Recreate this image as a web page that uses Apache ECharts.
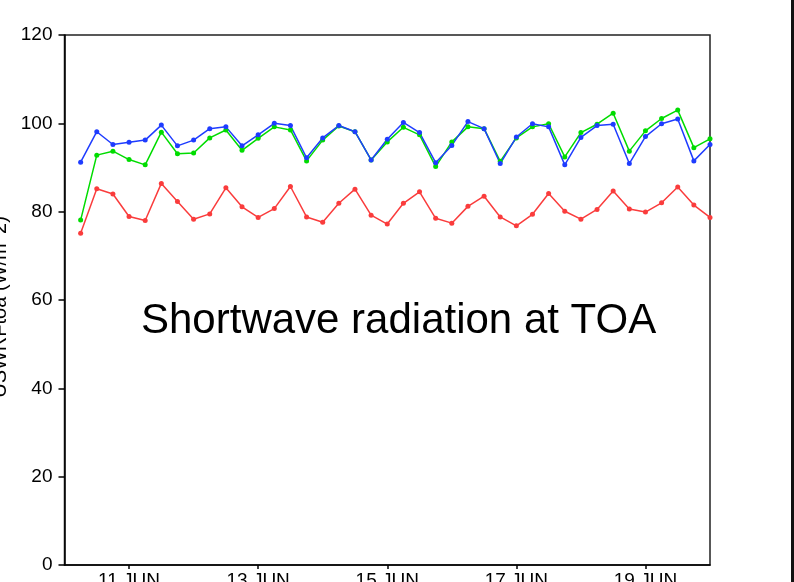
<!DOCTYPE html>
<html>
<head>
<meta charset="utf-8">
<script src="https://cdn.jsdelivr.net/npm/echarts@6/dist/echarts.min.js"></script>
<style>html,body{margin:0;padding:0;background:#fff;}#c{width:794px;height:582px;}</style>
</head>
<body>
<div id="c"></div>
<script>
// time stamps every 6 h, 10 JUN 00Z .. 20 JUN 00Z
var times = [
 '10 JUN 00Z','10 JUN 06Z','10 JUN 12Z','10 JUN 18Z',
 '11 JUN 00Z','11 JUN 06Z','11 JUN 12Z','11 JUN 18Z',
 '12 JUN 00Z','12 JUN 06Z','12 JUN 12Z','12 JUN 18Z',
 '13 JUN 00Z','13 JUN 06Z','13 JUN 12Z','13 JUN 18Z',
 '14 JUN 00Z','14 JUN 06Z','14 JUN 12Z','14 JUN 18Z',
 '15 JUN 00Z','15 JUN 06Z','15 JUN 12Z','15 JUN 18Z',
 '16 JUN 00Z','16 JUN 06Z','16 JUN 12Z','16 JUN 18Z',
 '17 JUN 00Z','17 JUN 06Z','17 JUN 12Z','17 JUN 18Z',
 '18 JUN 00Z','18 JUN 06Z','18 JUN 12Z','18 JUN 18Z',
 '19 JUN 00Z','19 JUN 06Z','19 JUN 12Z','19 JUN 18Z',
 '20 JUN 00Z'
];
var tickLabels = ['11 JUN','13 JUN','15 JUN','17 JUN','19 JUN'];
var yTicks = [0, 20, 40, 60, 80, 100, 120];

// values start at 10 JUN 06Z (first slot empty)
var redValues = [null,
 75.1, 85.2, 84.0, 78.9, 78.0, 86.4, 82.3, 78.3, 79.5, 85.4,
 81.1, 78.7, 80.7, 85.7, 78.8, 77.6, 81.9, 85.1, 79.2, 77.2,
 81.9, 84.5, 78.5, 77.4, 81.2, 83.5, 78.8, 76.8, 79.4, 84.1,
 80.1, 78.3, 80.5, 84.7, 80.6, 79.9, 82.0, 85.6, 81.5, 78.7];
var greenValues = [null,
 78.1, 92.8, 93.7, 91.8, 90.6, 98.0, 93.1, 93.3, 96.7, 98.5,
 93.9, 96.6, 99.2, 98.5, 91.5, 96.2, 99.4, 98.1, 91.7, 95.8,
 99.1, 97.4, 90.2, 95.8, 99.2, 98.8, 91.4, 96.7, 99.2, 99.9,
 92.4, 97.9, 99.8, 102.3, 93.7, 98.3, 101.1, 103.0, 94.5, 96.5];
var blueValues = [null,
 91.2, 98.1, 95.2, 95.7, 96.2, 99.6, 94.9, 96.2, 98.8, 99.2,
 94.9, 97.4, 100.0, 99.5, 92.2, 96.7, 99.5, 98.1, 91.7, 96.4,
 100.2, 97.9, 91.1, 95.0, 100.4, 98.8, 90.9, 96.9, 99.9, 99.2,
 90.6, 96.8, 99.5, 99.8, 90.9, 97.0, 99.9, 101.0, 91.5, 95.2];

var yTitle = 'USWRFtoa (W/m^2)';
var mainText = 'Shortwave radiation at TOA';

function isTick(index, value) {
  return tickLabels.indexOf(value.replace(' 00Z', '')) >= 0;
}
var FONT = 'Liberation Sans';

var chart = echarts.init(document.getElementById('c'), null, {renderer: 'canvas'});
function mk(name, data, color) {
  return {
    name: name, type: 'line', data: data,
    symbol: 'circle', symbolSize: 5, showSymbol: true,
    lineStyle: {color: color, width: 1.5},
    itemStyle: {color: color},
    connectNulls: false, animation: false, clip: true
  };
}
chart.setOption({
  animation: false,
  backgroundColor: '#fff',
  grid: {left: 64.5, right: 84, top: 35, bottom: 17, containLabel: false, outerBoundsMode: 'none',
    show: true, borderColor: '#222', borderWidth: 1.5, backgroundColor: 'transparent'},
  xAxis: {
    type: 'category', data: times, boundaryGap: false,
    axisLine: {show: true, lineStyle: {color: '#000', width: 1.5}},
    axisTick: {show: true, interval: isTick, length: 4, lineStyle: {color: '#000', width: 1.5}},
    axisLabel: {interval: isTick, margin: 6, color: '#000', fontFamily: FONT, fontSize: 19,
      formatter: function (v) { return v.replace(' 00Z', ''); }},
    splitLine: {show: false}
  },
  yAxis: {
    type: 'value', min: yTicks[0], max: yTicks[yTicks.length - 1], interval: 20,
    axisLine: {show: true, lineStyle: {color: '#000', width: 1.5}},
    axisTick: {show: true, length: 6, lineStyle: {color: '#000', width: 1.5}},
    axisLabel: {margin: 12, color: '#000', fontFamily: FONT, fontSize: 19},
    splitLine: {show: false}
  },
  series: [
    mk('red', redValues, '#fa3c3c'),
    mk('green', greenValues, '#00dc00'),
    mk('blue', blueValues, '#1e3cff')
  ],
  graphic: [
    {type: 'text', x: 0, y: 307, rotation: Math.PI / 2,
      style: {text: yTitle, fill: '#000', font: '20px "' + FONT + '"', textAlign: 'center', textVerticalAlign: 'middle'}},
    {type: 'text', x: 141, y: 321,
      style: {text: mainText, fill: '#000', font: '42px "' + FONT + '"', textAlign: 'left', textVerticalAlign: 'middle'}},
    {type: 'rect', shape: {x: 791, y: 0, width: 3, height: 582}, style: {fill: '#111'}}
  ]
});
</script>
</body>
</html>
